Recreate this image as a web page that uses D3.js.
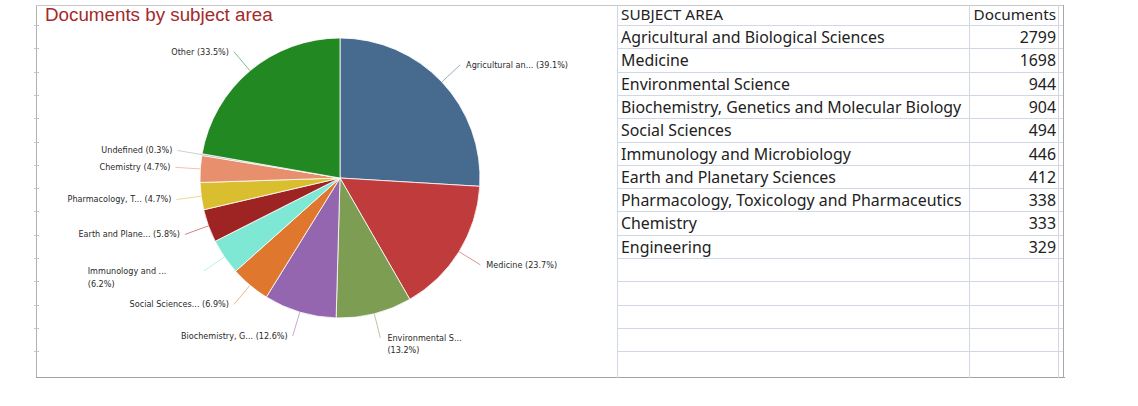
<!DOCTYPE html>
<html><head><meta charset="utf-8">
<script src="https://cdn.jsdelivr.net/npm/d3@7"></script>
<style>
html,body{margin:0;padding:0;background:#fff;}
svg{display:block;}
</style></head>
<body>
<svg id="c" width="1138" height="406"></svg>
<script>
// ---- data ----
const tableSubjects = ["Agricultural and Biological Sciences","Medicine","Environmental Science","Biochemistry, Genetics and Molecular Biology","Social Sciences","Immunology and Microbiology","Earth and Planetary Sciences","Pharmacology, Toxicology and Pharmaceutics","Chemistry","Engineering"];
const tableDocuments = [2799,1698,944,904,494,446,412,338,333,329];

const pieLabels = ["Agricultural an... (39.1%)","Medicine (23.7%)","Environmental S...\n(13.2%)","Biochemistry, G... (12.6%)","Social Sciences... (6.9%)","Immunology and ...\n(6.2%)","Earth and Plane... (5.8%)","Pharmacology, T... (4.7%)","Chemistry (4.7%)","Undefined (0.3%)","Other (33.5%)"];
const pieValues = [2799,1698,944,904,494,446,412,338,333,21,2398];
const pieColors = ["#476a8f","#c03b3c","#7c9d52","#9566b0","#e0772e","#7ee8d4","#9e2424","#d9bf30","#e88f6e","#a8a8a8","#228822"];

const title = "Documents by subject area";
const tableHeader = ["SUBJECT AREA","Documents"];

// ---- drawing ----
const svg = d3.select("#c");
const rowY = d3.scaleLinear().domain([0,1]).range([26,49.3]);
const nRows = 15;

// frame
const frame = svg.append("g").attr("fill","none");
frame.append("line").attr("x1",36.5).attr("x2",36.5).attr("y1",5).attr("y2",377.5).attr("stroke","#b0b0b0");
frame.append("line").attr("x1",36).attr("x2",1063).attr("y1",5.5).attr("y2",5.5).attr("stroke","#c8c8c8");
frame.append("line").attr("x1",36).attr("x2",1065).attr("y1",377.5).attr("y2",377.5).attr("stroke","#a0a0a0");
for (let k=0;k<nRows;k++){
  const y = Math.round(rowY(k)-1)+0.5;
  frame.append("line").attr("x1",34).attr("x2",39).attr("y1",y).attr("y2",y).attr("stroke","#c0c4cc");
}

// title
svg.append("text").attr("x",45).attr("y",21).attr("font-family","Liberation Sans, Arial, sans-serif")
  .attr("font-size",18.8).attr("fill","#a42a2a").text(title);

// pie
const cx = 340, cy = 178, R = 140;
const pie = d3.pie().sort(null).value(d=>d)(pieValues);
const arc = d3.arc().innerRadius(0).outerRadius(R);
const gp = svg.append("g").attr("transform",`translate(${cx},${cy})`);
gp.selectAll("path").data(pie).join("path")
  .attr("d",arc).attr("fill",(d,i)=>pieColors[i])
  .attr("stroke","#fff").attr("stroke-width",0.8);

const lab = gp.append("g").attr("font-family","DejaVu Sans, Verdana, sans-serif").attr("font-size",8.1).attr("fill","#2a2a2a");
pie.forEach((d,i)=>{
  const a = (d.startAngle+d.endAngle)/2;
  const s = Math.sin(a), c = -Math.cos(a);
  const x1 = s*R, y1 = c*R, x2 = s*(R+25), y2 = c*(R+25);
  gp.append("line").attr("x1",x1).attr("y1",y1).attr("x2",x2).attr("y2",y2)
    .attr("stroke",pieColors[i]).attr("stroke-opacity",0.55).attr("stroke-width",1);
  const right = s >= 0;
  const lines = pieLabels[i].split("\n");
  const t = lab.append("text").attr("y",y2+3);
  if (lines.length === 1) {
    t.attr("x", right ? x2+6 : x2-5).attr("text-anchor", right ? "start" : "end").text(lines[0]);
  } else {
    const x0 = right ? x2+7 : x2-4-112;
    lines.forEach((L,k)=>t.append("tspan").attr("x",x0).attr("dy",k===0?0:12.5).text(L));
  }
});

// table
const tl = 617.5, tm = 969.5, tr = 1058.5;
const tg = svg.append("g");
for (let k=0;k<nRows;k++){
  const y = Math.round(rowY(k)-1)+0.5;
  tg.append("line").attr("x1",tl).attr("x2",tr+5).attr("y1",y).attr("y2",y).attr("stroke","#d0d8e6");
}
tg.append("line").attr("x1",tl).attr("x2",tl).attr("y1",5).attr("y2",378).attr("stroke","#d0d8e6");
tg.append("line").attr("x1",tm).attr("x2",tm).attr("y1",5).attr("y2",378).attr("stroke","#d0d8e6");
tg.append("line").attr("x1",tr).attr("x2",tr).attr("y1",5).attr("y2",378).attr("stroke","#d0d8e6");
tg.append("line").attr("x1",tr+5).attr("x2",tr+5).attr("y1",5).attr("y2",378).attr("stroke","#a8a8a8");

const tf = "Noto Sans, Open Sans, sans-serif";
const tfs = 15.9;
tg.append("text").attr("x",621).attr("y",20).attr("font-family",tf).attr("font-size",15.3).attr("fill","#222").text(tableHeader[0]);
tg.append("text").attr("x",1056).attr("y",20).attr("text-anchor","end").attr("font-family",tf).attr("font-size",15.3).attr("fill","#222").text(tableHeader[1]);
tableSubjects.forEach((s,i)=>{
  const yb = rowY(i)+17;
  tg.append("text").attr("x",621).attr("y",yb).attr("font-family",tf).attr("font-size",tfs).attr("fill","#222").text(s);
  tg.append("text").attr("x",1056).attr("y",yb).attr("text-anchor","end").attr("font-family",tf).attr("font-size",tfs).attr("fill","#222").text(tableDocuments[i]);
});
</script>
</body></html>
